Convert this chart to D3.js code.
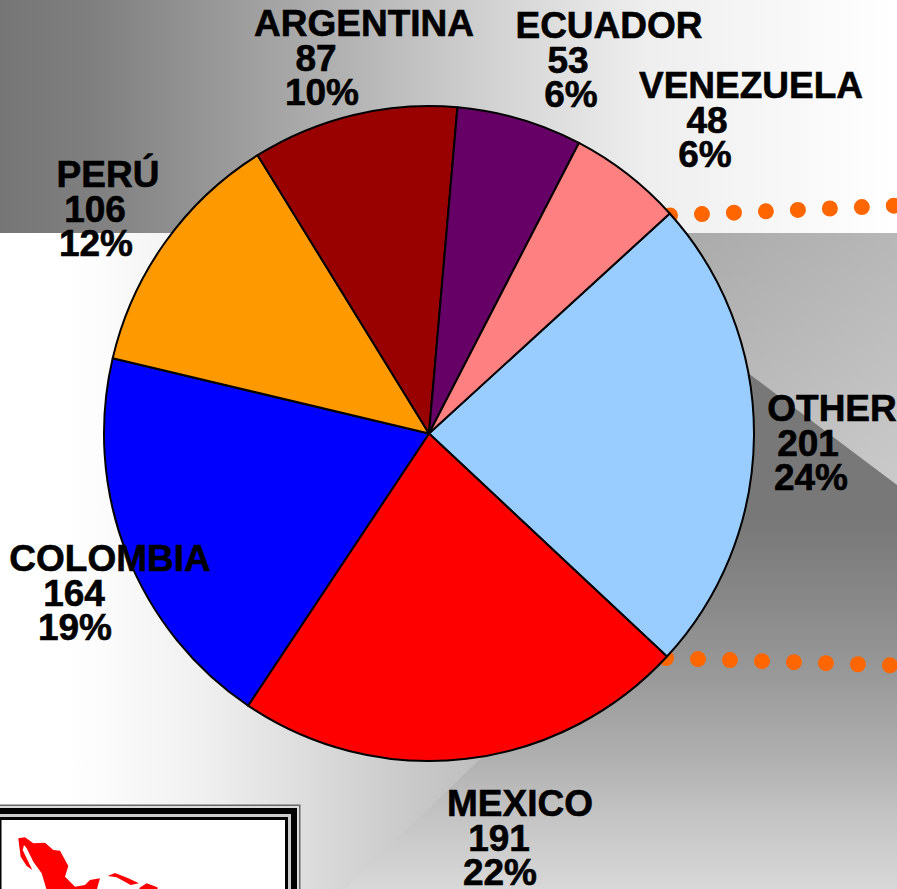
<!DOCTYPE html>
<html lang="en">
<head>
	<meta charset="UTF-8">
	<title>pie chart</title>
	<style>
		* {
			margin: 0;
			padding: 0;
		}
		body {
			background: #fff;
			overflow: hidden;
		}
		.svg {
			display: block;
		}
		.label {
			font-family: "Liberation Sans", Arial, sans-serif;
			font-weight: bold;
			font-size: 37px;
			fill: #000;
			stroke: #000;
			stroke-width: 0.6px;
			text-anchor: middle;
		}
	</style>
</head>
<body>
	<script src="https://cdn.jsdelivr.net/npm/d3@7"></script>
	<script>
		var categories = ['OTHER', 'MEXICO', 'COLOMBIA', 'PERÚ', 'ARGENTINA', 'ECUADOR', 'VENEZUELA'];
		var values = [201, 191, 164, 106, 87, 53, 48];
		var colors = ['#99ccff', '#ff0000', '#0000ff', '#ff9900', '#990000', '#660066', '#ff8080'];

		// hand placed labels, one x per text line and the y of the first line
		var labelX = [[832, 808, 811], [520, 499, 500], [110, 74, 75], [108, 95, 96], [364, 316, 322], [609, 568, 571], [751, 707, 705]];
		var labelY = [421, 816, 571, 187, 36, 38, 98];

		var contentWidth = 897, contentHeight = 889;
		var cx = 429, cy = 433.5, rx = 325, ry = 327.5;
		var startDeg = 47.8;

		var svg = d3.select('body').append('svg').attr('width', contentWidth).attr('height', contentHeight).classed('svg', true);
		var defs = svg.append('defs');

		function gradient(id, x1, y1, x2, y2, stops) {
			var g = defs.append('linearGradient').attr('id', id).attr('gradientUnits', 'userSpaceOnUse')
				.attr('x1', x1).attr('y1', y1).attr('x2', x2).attr('y2', y2);
			stops.forEach(function (s) {
				g.append('stop').attr('offset', s[0]).attr('stop-color', s[1]);
			});
		}

		gradient('topBand', 0, 0, 897, 0, [[0, '#767676'], [0.11, '#808080'], [0.33, '#a8a8a8'], [0.56, '#d4d4d4'], [0.72, '#eeeeee'], [1, '#ffffff']]);
		gradient('leftPart', 0, 0, 500, 0, [[0, '#ffffff'], [0.12, '#ffffff'], [0.2, '#fcfcfc'], [0.4, '#f0f0f0'], [0.6, '#dedede'], [0.7, '#d4d4d4'], [0.8, '#cbcbcb'], [0.94, '#c0c0c0'], [1, '#b8b8b8']]);
		gradient('upperRight', 700, 233, 897, 485, [[0, '#ababab'], [1, '#cacaca']]);
		gradient('lowerRight', 0, 520, 0, 889, [[0, '#787878'], [0.217, '#888888'], [0.434, '#9a9a9a'], [0.65, '#b0b0b0'], [0.786, '#c2c2c2'], [1, '#d8d8d8']]);

		// background
		var bg = svg.append('g');
		bg.append('rect').attr('x', 0).attr('y', 233).attr('width', contentWidth).attr('height', 656).style('fill', 'url(#leftPart)');
		bg.append('path').attr('d', 'M560,233L897,233L897,485L640,292Z').style('fill', 'url(#upperRight)');
		bg.append('path').attr('d', 'M640,292L897,485L897,889L345,889L500,740Z').style('fill', 'url(#lowerRight)');
		bg.append('rect').attr('x', 0).attr('y', 0).attr('width', contentWidth).attr('height', 233).style('fill', 'url(#topBand)');

		// orange dotted lines
		var dots = svg.append('g');
		[[[670, 215.5], [894, 205.7]], [[666, 658], [890, 665.3]]].forEach(function (l) {
			dots.append('path')
				.attr('d', d3.line()(l))
				.style('stroke', '#ff6600')
				.style('stroke-width', 16)
				.style('stroke-linecap', 'round')
				.style('stroke-dasharray', '0 32')
				.style('fill', 'none');
		});

		// pie
		var pie = d3.pie().sort(null)
			.startAngle(startDeg * Math.PI / 180)
			.endAngle((startDeg + 360) * Math.PI / 180);
		var arc = d3.arc().innerRadius(0).outerRadius(rx);
		var total = d3.sum(values);
		var percent = d3.format('.0%');

		svg.append('g')
			.attr('transform', 'translate(' + cx + ',' + cy + ') scale(1,' + (ry / rx) + ')')
			.selectAll('path')
			.data(pie(values))
			.enter()
			.append('path')
			.attr('d', arc)
			.style('fill', function (d, i) { return colors[i]; })
			.style('stroke', '#000')
			.style('stroke-width', 2)
			.style('stroke-linejoin', 'round');

		// labels
		var lineStep = 34.5;
		var labels = svg.append('g').selectAll('text')
			.data(categories)
			.enter()
			.append('text')
			.classed('label', true);
		labels.each(function (name, i) {
			var lines = [name, values[i], percent(values[i] / total)];
			d3.select(this).selectAll('tspan')
				.data(lines)
				.enter()
				.append('tspan')
				.attr('x', function (d, j) { return labelX[i][j]; })
				.attr('y', function (d, j) { return labelY[i] + j * lineStep; })
				.text(function (d) { return d; });
		});

		// map picture, cut by the bottom edge
		var frame = svg.append('g');
		var frameLeft = -14, frameTop = 804.5, frameRight = 300.5;
		[[0, '#666666'], [1.5, '#dddddd'], [3.5, '#000000'], [9.5, '#cccccc'], [12.5, '#000000'], [15.5, '#ffffff']].forEach(function (r) {
			frame.append('rect')
				.attr('x', frameLeft + r[0])
				.attr('y', frameTop + r[0])
				.attr('width', frameRight - frameLeft - 2 * r[0])
				.attr('height', 200)
				.style('fill', r[1]);
		});

		var map = svg.append('g').attr('transform', 'translate(0,790) scale(0.3333)').style('fill', '#ff0000');
		map.append('path').attr('d', 'M55,145L75,142L100,160L135,158L160,180L180,182L205,228L195,260L225,290L255,285L270,270L300,265L290,300L140,300L125,250L100,215L80,175L72,165L68,180L80,205L97,240L80,228L62,200L58,170Z');
		map.append('path').attr('d', 'M323,258L345,249L385,265L417,280L392,285L350,262Z');
		map.append('path').attr('d', 'M418,294L440,280L472,292L474,300L420,300Z');
	</script>
</body>
</html>
